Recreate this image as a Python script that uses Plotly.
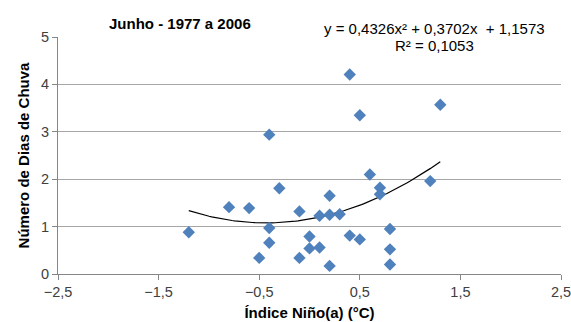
import plotly.graph_objects as go
import numpy as np

# Data (Índice Niño(a) vs Número de Dias de Chuva)
nino_index = [-1.2, -0.8, -0.6, -0.4, -0.4, -0.4, -0.5, -0.3,
              0.6, 0.7, 0.7, 1.2, 0.2, -0.1, 0.1, 0.2, 0.3, 0.8,
              0.0, 0.4, 0.5, 0.0, 0.1, 0.8, -0.1, 0.2, 0.8,
              0.4, 0.5, 1.3]
rain_days = [0.88, 1.41, 1.39, 2.94, 0.97, 0.66, 0.34, 1.81,
             2.10, 1.82, 1.68, 1.96, 1.65, 1.32, 1.23, 1.25, 1.26, 0.95,
             0.79, 0.81, 0.73, 0.54, 0.56, 0.52, 0.34, 0.17, 0.20,
             4.21, 3.35, 3.57]

# Polynomial trendline coefficients as printed on the chart
trend_coefs = [0.4326, 0.3702, 1.1573]
trend_label = "y = 0,4326x² + 0,3702x  + 1,1573"
r2_label = "R² = 0,1053"
title_text = "Junho - 1977 a 2006"
x_title = "Índice Niño(a) (°C)"
y_title = "Número de Dias de Chuva"

xt = np.linspace(min(nino_index), max(nino_index), 100)
yt = np.polyval(trend_coefs, xt)

fig = go.Figure()
fig.add_trace(go.Scatter(x=xt, y=yt, mode="lines",
                         line=dict(color="black", width=1.2),
                         hoverinfo="skip", showlegend=False))
fig.add_trace(go.Scatter(x=nino_index, y=rain_days, mode="markers",
                         marker=dict(symbol="diamond", size=9.5, color="#4F81BD",
                                     line=dict(width=0)),
                         showlegend=False))

font_fam = "Liberation Sans, Arial, sans-serif"
fig.update_layout(
    width=571, height=322,
    margin=dict(l=57.5, r=10, t=37, b=48.3),
    paper_bgcolor="white", plot_bgcolor="white",
    separators=",.",
    font=dict(family=font_fam, size=14.5, color="#404040"),
    xaxis=dict(range=[-2.5, 2.5], tick0=-2.5, dtick=1, tickformat=".1f",
               automargin=False, ticklabeloverflow="allow",
               showgrid=False, zeroline=False,
               showline=True, linecolor="#868686", linewidth=1,
               ticks="outside", ticklen=5, tickcolor="#868686",
               tickfont=dict(size=14.5, color="#404040"),
               title=dict(text="<b>" + x_title + "</b>",
                          font=dict(size=15, color="black", family=font_fam),
                          standoff=8)),
    yaxis=dict(range=[0, 5], dtick=1,
               automargin=False, ticklabeloverflow="allow",
               showgrid=True, gridcolor="#a6a6a6", gridwidth=1,
               zeroline=False,
               showline=True, linecolor="#868686", linewidth=1,
               ticks="outside", ticklen=5, tickcolor="#868686",
               tickfont=dict(size=14.5, color="#404040"),
               title=dict(text="<b>" + y_title + "</b>",
                          font=dict(size=15, color="black", family=font_fam),
                          standoff=7)),
    annotations=[
        dict(text="<b>" + title_text + "</b>", xref="paper", yref="paper",
             x=(180 - 57.5) / 503.5, y=(273.7 - 24) / 236.7,
             xanchor="center", yanchor="middle", showarrow=False,
             font=dict(size=15, color="black", family=font_fam)),
        dict(text=trend_label, xref="paper", yref="paper",
             x=(434.5 - 57.5) / 503.5, y=(273.7 - 29) / 236.7,
             xanchor="center", yanchor="middle", showarrow=False,
             font=dict(size=15, color="black", family=font_fam)),
        dict(text=r2_label, xref="paper", yref="paper",
             x=(434 - 57.5) / 503.5, y=(273.7 - 45) / 236.7,
             xanchor="center", yanchor="middle", showarrow=False,
             font=dict(size=15, color="black", family=font_fam)),
    ],
)

fig.write_html("out.html")
